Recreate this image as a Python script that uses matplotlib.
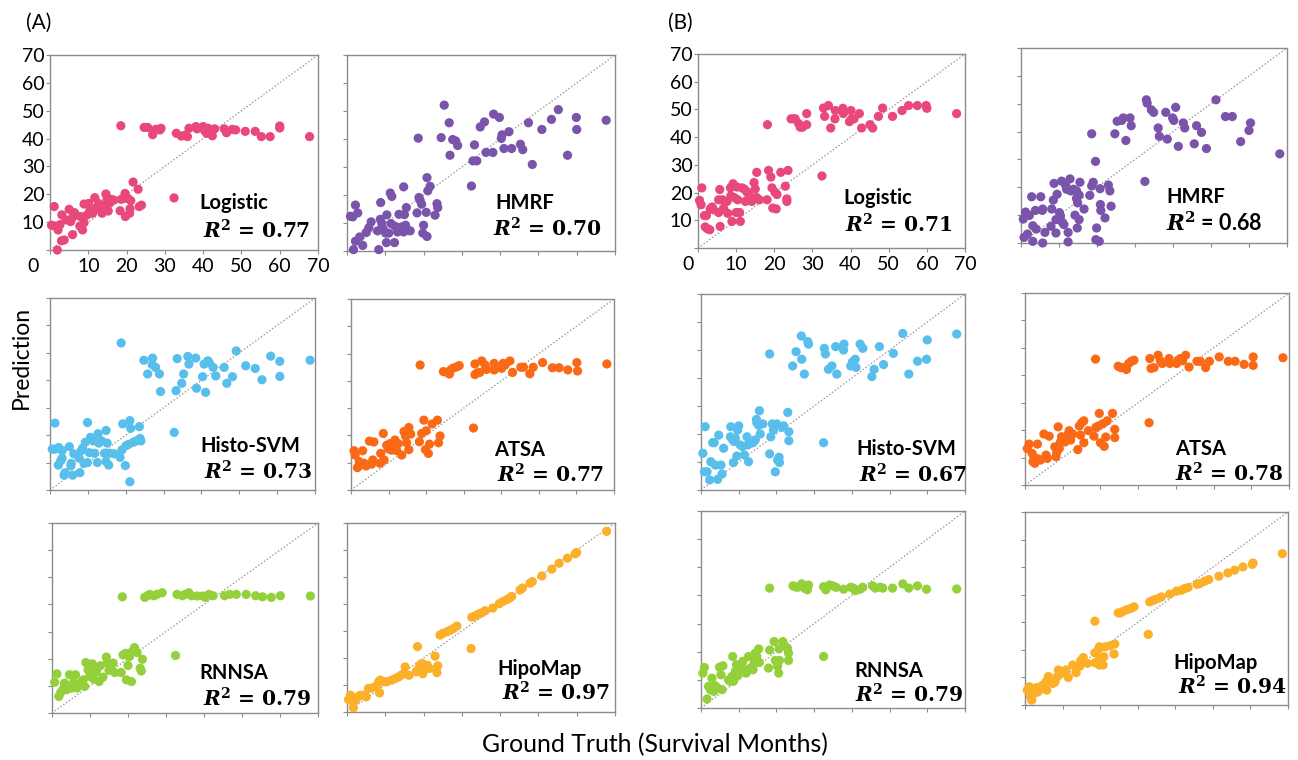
import numpy as np
import matplotlib.pyplot as plt

plt.rcParams['font.family'] = ['Lato', 'DejaVu Sans']
plt.rcParams['mathtext.fontset'] = 'custom'
plt.rcParams['mathtext.rm'] = 'DejaVu Serif'
plt.rcParams['mathtext.bf'] = 'DejaVu Serif:bold'
plt.rcParams['mathtext.it'] = 'DejaVu Serif:italic'
plt.rcParams['mathtext.bfit'] = 'DejaVu Serif:italic:bold'

# ---- data (ground truth months, predicted months) ----
# (A) Logistic
a_log_x = [18.5, 24.6, 25.5, 26.8, 27.6, 28.7, 29.0, 33.0, 34.3, 35.4, 35.9, 36.3, 38.1, 38.4, 40.0, 40.4,
           40.9, 41.3, 42.4, 43.0, 45.5, 46.1, 47.6, 48.5, 51.0, 53.6, 55.2, 57.5, 60.0, 60.0, 67.8,
           1.1, 0.4, 1.3, 2.1, 2.6, 3.1, 3.0, 3.7, 1.9, 4.2, 5.0, 5.4, 5.9, 6.4, 5.9, 8.0, 7.8, 8.5, 8.9,
           8.9, 9.7, 10.1, 10.4, 11.1, 11.7, 12.2, 12.7, 13.2, 13.6, 14.3, 14.6, 14.9, 15.2, 15.5, 16.0,
           16.7, 18.3, 18.6, 19.3, 19.6, 19.7, 20.4, 20.8, 20.9, 21.1, 21.7, 23.0, 23.3, 23.9, 32.4]
a_log_y = [44.6, 44.0, 44.0, 41.4, 43.3, 43.1, 43.7, 41.9, 40.9, 41.3, 40.7, 43.7, 44.3, 43.5, 44.3, 42.8,
           41.9, 43.7, 41.0, 43.5, 43.5, 42.1, 43.3, 43.1, 42.6, 42.6, 40.7, 40.7, 44.5, 43.8, 40.7,
           15.6, 8.9, 8.6, 7.2, 9.1, 12.6, 3.3, 3.6, 0.0, 10.8, 14.6, 10.2, 11.7, 13.4, 5.5, 12.0, 8.6, 7.2, 9.8,
           16.5, 12.6, 16.7, 14.1, 13.2, 18.8, 15.3, 16.7, 14.4, 13.2, 16.1, 20.1, 18.2, 14.0, 16.7, 18.2,
           17.9, 14.1, 18.2, 18.5, 20.3, 12.0, 18.5, 13.2, 14.8, 17.7, 24.4, 21.8, 15.6, 16.1, 18.7]

# (A) HMRF
a_hmrf_x = [25.4, 26.7, 18.6, 24.6, 26.9, 27.6, 28.4, 28.9, 33.3, 32.9, 33.9, 34.8, 35.9, 36.3, 38.1, 38.3,
            39.8, 40.3, 40.5, 41.0, 42.3, 43.0, 45.3, 45.9, 47.4, 48.4, 50.9, 53.4, 55.2, 57.6, 59.9, 60.0,
            67.7, 32.5,
            0.9, 1.5, 2.2, 2.8, 2.2, 1.7, 3.3, 4.1, 5.0, 5.7, 6.3, 8.0, 8.3, 8.8, 8.7, 9.1, 9.4, 10.1, 10.3,
            10.4, 10.9, 11.3, 11.7, 11.5, 12.4, 12.6, 13.2, 13.6, 14.3, 14.8, 14.8, 15.0, 15.3, 15.5, 16.5,
            18.3, 18.8, 19.1, 19.5, 20.0, 19.8, 20.7, 20.9, 20.9, 21.1, 21.7, 23.0, 23.5, 23.7]
a_hmrf_y = [52.1, 45.8, 40.3, 40.5, 34.2, 39.8, 39.3, 37.7, 37.9, 32.2, 32.2, 44.3, 46.1, 35.2, 35.2, 48.9,
            47.7, 40.2, 41.5, 36.6, 42.6, 36.6, 38.1, 36.2, 45.8, 30.9, 43.4, 47.0, 50.5, 34.2, 47.7, 43.4,
            46.7, 23.2,
            12.4, 12.2, 16.4, 13.6, 3.5, 0.5, 5.0, 2.0, 6.6, 8.3, 10.4, 7.2, 0.5, 17.3, 11.3, 9.8, 8.0, 6.4, 3.0,
            12.9, 6.4, 20.7, 19.5, 9.8, 3.0, 8.8, 6.8, 13.1, 8.6, 22.9, 6.8, 13.0, 9.2, 15.5, 7.2,
            13.6, 19.1, 18.1, 16.7, 9.2, 6.4, 13.8, 5.2, 26.2, 21.5, 23.1, 12.8, 16.9, 15.5]

# (A) Histo-SVM
a_his_x = [18.8, 24.8, 25.8, 27.1, 27.0, 27.9, 28.9, 29.2, 33.3, 33.6, 34.8, 35.3, 36.4, 36.7, 38.5, 38.7,
           40.3, 40.7, 41.1, 41.7, 42.1, 43.1, 43.8, 46.0, 46.7, 48.2, 49.2, 51.7, 54.2, 56.0, 58.3, 60.7,
           60.7, 68.7, 32.8,
           1.3, 0.6, 1.3, 2.3, 3.2, 2.2, 2.8, 3.2, 3.7, 4.0, 5.1, 5.5, 5.6, 6.0, 6.3, 7.7, 7.9, 8.3, 8.6,
           9.0, 9.3, 9.9, 9.9, 10.4, 10.7, 11.4, 11.8, 12.5, 12.7, 12.9, 13.6, 14.4, 14.8, 14.8, 15.1, 15.5,
           15.8, 16.9, 18.5, 19.0, 19.2, 19.9, 20.1, 20.7, 21.1, 21.1, 21.3, 22.0, 22.8, 23.6, 23.8, 24.0]
a_his_y = [53.6, 47.3, 42.3, 48.1, 45.7, 44.7, 42.3, 35.9, 36.2, 47.9, 38.9, 42.3, 48.7, 45.9, 48.1, 37.1,
           41.3, 45.9, 35.6, 47.1, 46.3, 44.7, 41.6, 44.7, 38.9, 41.3, 50.7, 45.3, 44.3, 40.2, 48.8, 46.9,
           41.4, 47.3, 21.0,
           24.4, 14.9, 14.9, 15.5, 14.4, 9.1, 10.6, 11.6, 5.4, 6.3, 15.8, 8.8, 9.7, 5.4, 13.2, 11.6, 6.3, 14.4, 15.2,
           9.7, 17.4, 10.0, 24.6, 13.6, 19.2, 17.9, 13.4, 10.0, 20.5, 17.1, 17.9, 13.4, 21.7, 10.4, 17.1, 9.1,
           13.4, 13.2, 11.9, 14.6, 24.1, 8.9, 16.2, 16.6, 25.3, 3.0, 22.5, 17.4, 17.9, 23.1, 18.8, 17.9]

# (A) ATSA
a_atsa_x = [18.4, 24.6, 25.5, 26.2, 26.6, 27.2, 28.1, 28.8, 33.0, 33.0, 33.6, 34.3, 34.8, 35.7, 36.1, 38.1,
            38.1, 39.2, 40.1, 40.5, 41.0, 42.3, 43.0, 45.2, 45.9, 47.6, 48.5, 51.0, 53.6, 55.4, 57.7, 60.1,
            60.3, 68.1, 32.6,
            0.8, 1.1, 1.7, 2.2, 2.6, 3.1, 3.5, 4.0, 4.9, 5.5, 5.8, 6.1, 7.7, 7.9, 8.6, 8.8, 9.5, 9.9, 10.4,
            10.8, 11.3, 11.7, 12.2, 12.6, 13.5, 14.1, 14.5, 14.8, 15.4, 15.4, 15.9, 18.2, 18.8, 19.4, 19.8,
            20.0, 20.6, 20.9, 21.6, 23.0, 23.3, 23.7]
a_atsa_y = [45.8, 43.4, 43.1, 42.5, 44.1, 44.7, 45.1, 45.6, 42.3, 46.2, 42.9, 43.1, 47.3, 45.8, 44.2, 46.4,
            44.0, 45.0, 44.6, 46.4, 45.8, 47.3, 43.1, 45.0, 45.0, 42.6, 45.0, 46.7, 44.8, 44.8, 44.0, 46.7,
            43.6, 46.2, 22.7,
            14.4, 12.8, 8.2, 10.4, 9.2, 14.4, 9.8, 8.8, 17.9, 9.5, 11.0, 17.6, 9.8, 13.4, 20.7, 11.0, 16.4, 15.1, 17.0,
            14.6, 16.1, 18.3, 14.4, 17.0, 12.8, 21.4, 19.8, 17.3, 22.9, 14.8, 20.5, 17.7, 20.7, 25.6, 14.8,
            21.7, 13.4, 16.8, 24.2, 25.6, 17.3, 19.8]

# (A) RNNSA
a_rnn_x = [18.5, 24.4, 25.1, 25.7, 26.8, 27.6, 29.0, 32.9, 34.3, 35.0, 36.0, 36.7, 38.2, 39.7, 40.4, 41.3,
           42.4, 45.4, 46.8, 48.5, 51.1, 53.6, 55.4, 57.7, 60.1, 68.0, 32.5,
           1.3, 0.7, 1.8, 2.3, 2.9, 3.3, 3.8, 4.6, 5.1, 5.7, 6.2, 6.6, 7.7, 8.2, 8.6, 8.9, 9.5, 9.9, 10.6,
           11.0, 11.7, 12.4, 12.7, 13.4, 14.3, 14.5, 15.0, 15.6, 16.1, 16.5, 18.2, 18.7, 19.4, 19.6, 20.0,
           20.4, 20.9, 21.1, 21.7, 22.4, 23.2, 23.5, 23.8]
a_rnn_y = [42.8, 42.6, 43.2, 43.7, 43.2, 43.7, 44.3, 43.7, 43.2, 43.7, 44.3, 43.2, 43.1, 43.1, 42.6, 43.7,
           43.2, 43.2, 43.7, 43.7, 43.7, 43.2, 42.8, 42.6, 43.2, 43.1, 21.2,
           14.4, 11.3, 6.1, 7.6, 8.8, 11.0, 8.6, 14.1, 9.2, 11.3, 14.1, 9.2, 11.3, 12.2, 9.8, 18.6, 15.9, 13.5, 18.1,
           12.5, 15.3, 11.6, 17.4, 13.2, 20.6, 18.4, 15.7, 16.2, 18.4, 14.9, 14.9, 21.4, 22.0, 12.2, 17.5,
           20.8, 11.6, 22.6, 24.1, 22.3, 16.5, 15.5, 19.8]

# (A) HipoMap
a_hipo_x = [67.8, 60.0, 59.6, 57.6, 55.4, 53.5, 50.9, 48.4, 47.8, 45.8, 45.2, 43.0, 42.4, 41.6, 40.7, 39.8,
            38.1, 36.1, 35.2, 34.3, 33.5, 32.6, 28.7, 27.8, 27.0, 26.1, 25.0, 24.3, 18.4, 32.4, 23.0, 23.7,
            23.5, 19.0, 19.6, 20.0, 20.4, 21.0, 21.5, 19.3, 18.4, 18.1, 19.8, 16.2, 15.2, 14.8, 14.1, 13.5,
            12.6, 11.7, 10.4, 9.6, 8.7, 8.3, 7.8, 8.5, 6.5, 5.6, 5.0, 4.2, 3.5, 2.8, 2.2, 0.9, 0.4, 1.7, 1.6]
a_hipo_y = [66.9, 59.1, 58.6, 57.0, 55.1, 52.9, 50.4, 48.3, 47.7, 45.9, 45.2, 42.8, 42.1, 41.5, 40.9, 40.1,
            38.5, 37.5, 36.7, 36.2, 35.6, 35.1, 31.8, 30.9, 30.3, 29.7, 29.1, 28.5, 24.2, 23.5, 20.7, 17.1,
            14.6, 17.3, 18.0, 16.1, 16.7, 17.3, 16.1, 15.5, 15.5, 14.9, 14.2, 13.6, 16.7, 14.2, 13.6, 13.0,
            12.4, 11.8, 11.2, 11.2, 11.8, 11.2, 9.9, 7.1, 8.9, 8.7, 5.6, 6.2, 6.2, 5.6, 4.3, 6.2, 4.6, 1.6, 3.7]

# (B) Logistic
b_log_x = [18.2, 24.4, 25.1, 25.5, 26.4, 26.8, 27.4, 28.5, 28.5, 32.9, 33.2, 34.2, 34.8, 35.9, 36.0, 38.0,
           38.1, 39.7, 40.1, 40.3, 40.9, 42.3, 42.9, 45.1, 45.8, 47.3, 48.4, 51.0, 53.5, 55.2, 57.5, 59.8,
           60.0, 67.8, 32.5,
           0.4, 0.8, 1.0, 1.7, 2.2, 1.9, 2.5, 3.1, 3.2, 3.7, 4.1, 5.4, 5.7, 5.4, 5.8, 6.4, 6.7, 7.6, 7.8,
           8.5, 8.6, 8.9, 9.2, 9.5, 10.0, 10.2, 10.4, 10.9, 11.1, 11.5, 12.1, 12.4, 12.7, 13.0, 13.5, 14.1,
           14.7, 15.0, 15.4, 15.4, 16.1, 18.1, 18.5, 19.1, 19.4, 19.6, 20.2, 20.7, 20.5, 21.7, 22.9, 23.3,
           23.6, 23.3]
b_log_y = [44.5, 46.6, 46.6, 46.6, 44.9, 43.6, 43.6, 44.5, 48.5, 50.5, 47.5, 51.4, 43.3, 46.6, 49.6, 50.4,
           48.5, 45.6, 49.6, 46.6, 46.6, 48.5, 43.3, 44.5, 43.3, 47.5, 50.5, 47.5, 49.6, 51.4, 51.4, 51.4,
           50.4, 48.5, 26.0,
           17.2, 15.6, 21.7, 11.7, 11.7, 7.6, 6.9, 6.6, 14.1, 14.8, 13.8, 17.4, 21.1, 12.8, 7.8, 17.4, 14.4, 16.8, 12.5,
           21.7, 18.8, 9.6, 23.2, 18.2, 12.8, 22.0, 17.4, 12.8, 9.6, 21.7, 21.3, 16.8, 20.5, 19.9, 18.9, 16.8,
           23.6, 21.3, 18.2, 27.3, 17.4, 17.4, 28.0, 25.6, 21.7, 14.4, 20.1, 19.3, 14.1, 27.3, 22.3, 17.7,
           28.0, 16.8]

# (B) HMRF
b_hmrf_x = [18.6, 19.6, 24.7, 25.3, 26.5, 26.9, 27.6, 28.7, 29.0, 32.6, 33.0, 33.2, 34.3, 34.9, 36.1, 36.4,
            38.1, 38.5, 39.9, 40.2, 40.7, 41.4, 42.7, 43.1, 45.6, 46.2, 47.5, 48.8, 51.3, 53.8, 55.6, 57.8,
            60.0, 60.4, 68.1,
            0.6, 1.2, 2.2, 0.8, 1.7, 2.8, 3.1, 3.1, 3.8, 4.0, 5.2, 5.6, 5.7, 6.3, 5.7, 8.1, 7.9, 8.5, 8.7,
            9.2, 9.2, 9.5, 10.1, 10.4, 10.7, 10.9, 11.3, 11.8, 12.0, 12.4, 12.4, 12.9, 13.1, 13.8, 14.2, 14.6,
            14.6, 14.9, 15.3, 14.8, 15.5, 15.3, 16.6, 18.1, 18.6, 19.0, 19.9, 19.7, 20.6, 20.8, 20.9, 21.0,
            22.1, 23.0, 23.4, 23.7]
b_hmrf_y = [39.2, 29.3, 39.2, 43.7, 44.0, 44.9, 36.8, 44.9, 42.1, 22.1, 51.4, 50.2, 47.8, 46.9, 41.3, 38.3,
            46.9, 37.3, 44.9, 44.0, 48.7, 34.7, 43.1, 41.3, 35.6, 42.1, 39.7, 33.9, 51.4, 45.4, 45.4, 36.4,
            40.4, 43.1, 32.0,
            8.6, 11.1, 9.9, 2.0, 3.2, 16.6, 6.2, 0.6, 11.7, 5.0, 16.6, 11.7, 12.2, 3.8, 0.0, 12.2, 6.0, 15.4, 21.4,
            8.4, 3.6, 17.5, 10.9, 9.7, 22.2, 7.4, 6.6, 20.5, 19.3, 3.8, 0.4, 23.0, 18.7, 19.3, 10.0, 18.7,
            16.0, 14.4, 8.4, 5.4, 21.8, 17.2, 12.2, 17.1, 20.5, 21.8, 5.4, 1.2, 0.6, 19.5, 13.8, 11.7,
            9.0, 20.8, 18.7, 13.2]

# (B) Histo-SVM
b_his_x = [18.2, 24.3, 25.2, 26.6, 26.7, 27.4, 28.3, 28.5, 32.5, 32.7, 33.0, 33.8, 34.7, 35.7, 36.0, 37.8,
           37.9, 39.7, 40.2, 40.9, 41.1, 42.2, 42.9, 45.3, 45.9, 47.3, 48.4, 51.0, 53.5, 55.1, 57.4, 59.8,
           60.0, 67.8,
           0.5, 0.9, 1.1, 1.6, 2.3, 2.6, 3.1, 3.5, 3.8, 4.4, 4.7, 5.3, 5.6, 6.0, 7.8, 7.9, 8.4, 8.6, 8.8,
           9.1, 9.5, 9.7, 10.0, 10.4, 11.0, 11.5, 12.2, 12.4, 12.6, 13.1, 13.8, 14.4, 14.7, 14.8, 15.3, 15.5,
           15.7, 16.4, 18.2, 18.5, 18.9, 19.2, 19.7, 20.1, 20.3, 20.7, 20.8, 21.5, 21.9, 23.0, 23.3, 23.3]
b_his_y = [48.6, 44.3, 49.4, 55.0, 46.7, 41.4, 53.0, 52.1, 16.9, 50.6, 48.6, 43.1, 44.3, 51.2, 41.4, 50.0,
           52.1, 44.3, 45.8, 46.7, 43.8, 52.1, 50.6, 40.5, 43.1, 51.2, 44.8, 48.8, 55.9, 41.4, 46.0, 46.7,
           53.6, 55.7,
           13.1, 6.5, 22.6, 6.5, 3.6, 10.1, 16.9, 16.9, 8.9, 3.8, 19.6, 8.9, 5.7, 14.9, 19.0, 22.6, 17.9, 9.8, 17.3,
           18.5, 12.1, 21.4, 22.9, 16.1, 15.5, 12.5, 19.0, 16.1, 10.1, 16.7, 16.9, 17.9, 25.2, 24.0, 23.1, 28.3,
           20.0, 23.6, 12.9, 19.0, 23.6, 21.4, 6.5, 23.6, 10.7, 11.7, 9.8, 22.4, 22.9, 27.7, 20.8, 17.6]

# (B) ATSA
b_atsa_x = [18.7, 24.7, 25.4, 26.2, 26.9, 27.5, 28.2, 28.9, 33.1, 33.4, 34.2, 35.3, 35.9, 36.4, 38.2, 38.4,
            40.2, 40.6, 41.2, 41.8, 42.6, 43.5, 45.6, 46.5, 47.9, 48.9, 51.5, 53.9, 55.7, 58.1, 60.5, 60.5,
            68.4, 32.9,
            0.6, 1.1, 1.9, 2.1, 2.4, 2.6, 2.9, 3.3, 3.5, 4.1, 5.0, 5.6, 5.9, 6.4, 7.9, 8.2, 8.4, 8.8, 9.1,
            9.4, 9.7, 10.1, 10.6, 11.0, 11.5, 11.7, 12.1, 12.6, 14.0, 14.4, 14.7, 15.0, 15.6, 15.6, 16.8,
            18.3, 18.8, 19.4, 19.7, 20.0, 20.6, 21.0, 21.4, 21.8, 23.2, 23.8, 23.8]
b_atsa_y = [45.9, 43.3, 42.8, 42.8, 42.1, 44.3, 45.1, 45.5, 46.1, 42.5, 42.8, 47.3, 45.3, 44.3, 46.1, 44.3,
            44.3, 45.5, 46.1, 45.3, 47.3, 43.0, 45.1, 45.1, 42.8, 45.1, 46.7, 45.1, 45.1, 44.0, 46.7, 43.6,
            46.4, 22.7,
            13.3, 14.9, 11.5, 8.5, 10.2, 7.9, 8.9, 14.9, 9.5, 9.1, 18.6, 10.9, 9.7, 17.8, 13.9, 10.3, 11.8, 21.2, 13.3,
            15.7, 17.6, 17.0, 15.7, 17.6, 18.6, 19.8, 16.4, 18.6, 12.9, 21.5, 18.2, 22.7, 23.4, 15.4, 19.8,
            17.8, 21.0, 21.5, 26.1, 15.4, 22.3, 14.1, 17.5, 23.4, 26.1, 20.3, 17.3]

# (B) RNNSA
b_rnn_x = [18.2, 24.4, 25.0, 25.6, 26.7, 27.4, 28.2, 28.5, 32.5, 33.1, 34.1, 34.9, 35.8, 37.8, 39.7, 40.4,
           40.9, 42.2, 42.9, 45.5, 46.2, 47.5, 48.2, 50.8, 53.5, 55.1, 57.4, 59.8, 67.8, 32.5,
           0.5, 0.9, 1.6, 2.0, 2.5, 2.9, 3.4, 3.8, 4.4, 4.9, 5.3, 5.6, 5.8, 7.3, 7.7, 8.2, 8.4, 8.6, 9.1,
           9.4, 9.7, 10.2, 10.6, 11.1, 11.5, 12.0, 12.6, 13.1, 13.8, 14.1, 14.4, 14.8, 15.3, 15.5, 17.9,
           18.2, 19.4, 19.7, 20.3, 20.6, 20.7, 20.8, 21.7, 22.9, 23.2, 23.2]
b_rnn_y = [42.6, 43.4, 43.1, 42.9, 44.1, 42.6, 42.0, 43.7, 43.1, 42.0, 43.7, 43.4, 42.9, 42.2, 42.9, 42.6,
           41.7, 42.2, 42.9, 43.4, 42.6, 42.9, 42.6, 42.6, 44.1, 42.6, 43.4, 42.2, 42.3, 18.3,
           12.4, 14.4, 3.2, 7.7, 6.5, 10.6, 5.9, 7.9, 7.1, 14.5, 11.8, 6.5, 15.0, 10.0, 9.5, 11.2, 18.3, 9.5, 13.0,
           15.4, 11.5, 14.2, 15.4, 16.6, 13.6, 12.4, 18.3, 14.2, 13.6, 16.0, 19.5, 18.3, 21.0, 16.2, 14.2,
           20.6, 23.6, 16.9, 14.8, 12.4, 21.0, 16.9, 23.6, 21.3, 19.5, 16.9]

# (B) HipoMap
b_hipo_x = [68.5, 60.7, 60.5, 58.0, 55.8, 54.0, 51.6, 48.9, 47.8, 46.5, 45.8, 43.4, 42.5, 41.6, 40.3, 38.5,
            36.3, 35.4, 34.5, 33.9, 33.2, 29.0, 28.1, 27.2, 26.3, 25.4, 24.8, 18.6, 32.8, 23.9, 23.7, 22.6,
            21.3, 19.8, 19.5, 18.6, 21.0, 19.9, 20.8, 19.8, 18.6, 16.6, 15.5, 14.8, 14.6, 13.6, 12.7, 11.5,
            10.9, 9.7, 8.9, 8.6, 8.0, 7.4, 6.2, 5.6, 5.8, 4.7, 3.5, 3.1, 2.2, 1.2, 0.6, 1.8, 1.5]
b_hipo_y = [54.9, 51.5, 51.0, 50.1, 48.9, 47.9, 46.7, 45.5, 44.9, 44.0, 43.8, 42.6, 42.2, 41.6, 41.3, 40.2,
            39.2, 38.6, 38.2, 37.8, 37.4, 35.6, 35.0, 34.6, 34.1, 33.4, 33.4, 30.4, 25.6, 22.1, 18.5, 21.5,
            21.1, 21.1, 20.1, 18.9, 17.5, 16.7, 14.5, 14.5, 15.3, 15.1, 17.2, 16.0, 14.1, 11.7, 14.5, 10.0,
            12.7, 11.7, 12.7, 10.3, 8.4, 7.8, 10.3, 8.4, 5.4, 7.2, 4.8, 6.3, 4.2, 6.6, 5.4, 1.8, 3.0]

ticks = [0, 10, 20, 30, 40, 50, 60, 70]
tick_labels = ['', '10', '20', '30', '40', '50', '60', '70']

pink = '#E8487A'
purple = '#7A54AA'
blue = '#58BEEB'
orange = '#FA6A16'
green = '#93D03A'
amber = '#FCAF28'

# box in pixels (left, right, top, bottom), name pos, r2 pos (axes fraction)
panels = [
    ((50, 318, 55, 250), a_log_x, a_log_y, pink, 'Logistic', '0.77', (0.556, 0.24), (0.57, 0.10), True, -4.4),
    ((347, 615, 55, 251), a_hmrf_x, a_hmrf_y, purple, 'HMRF', '0.70', (0.552, 0.245), (0.545, 0.115), False, 0),
    ((50, 315, 298, 490), a_his_x, a_his_y, blue, 'Histo-SVM', '0.73', (0.566, 0.23), (0.58, 0.095), False, 0),
    ((351, 614, 299, 490), a_atsa_x, a_atsa_y, orange, 'ATSA', '0.77', (0.544, 0.21), (0.555, 0.08), False, 0),
    ((52, 318, 523, 713), a_rnn_x, a_rnn_y, green, 'RNNSA', '0.79', (0.553, 0.21), (0.568, 0.075), False, 0),
    ((347, 615, 523, 712), a_hipo_x, a_hipo_y, amber, 'HipoMap', '0.97', (0.56, 0.23), (0.578, 0.10), False, 0),
    ((698, 965, 54, 248), b_log_x, b_log_y, pink, 'Logistic', '0.71', (0.543, 0.26), (0.55, 0.12), True, -2.6),
    ((1021, 1287, 48, 243), b_hmrf_x, b_hmrf_y, purple, 'HMRF', '0.68', (0.545, 0.236), (0.545, 0.10), False, 0),
    ((701, 965, 294, 490), b_his_x, b_his_y, blue, 'Histo-SVM', '0.67', (0.59, 0.21), (0.60, 0.076), False, 0),
    ((1025, 1289, 293, 485), b_atsa_x, b_atsa_y, orange, 'ATSA', '0.78', (0.57, 0.19), (0.57, 0.057), False, 0),
    ((701, 965, 511, 708), b_rnn_x, b_rnn_y, green, 'RNNSA', '0.79', (0.58, 0.19), (0.583, 0.066), False, 0),
    ((1025, 1288, 512, 705), b_hipo_x, b_hipo_y, amber, 'HipoMap', '0.94', (0.566, 0.22), (0.58, 0.093), False, 0),
]

W, H = 1298, 760
fig = plt.figure(figsize=(W / 100, H / 100), dpi=100)

for box, xs, ys, col, name, r2, npos, rpos, labels, zero_off in panels:
    l, r, t, b = box
    ax = fig.add_axes([l / W, (H - b) / H, (r - l) / W, (b - t) / H])
    ax.set_xlim(0, 70)
    ax.set_ylim(0, 70)
    ax.plot([0, 70], [0, 70], color='#9a9a9a', linestyle=(0, (1, 1.5)), lw=1.0, zorder=1)
    ax.scatter(xs, ys, s=44, color=col, edgecolors='none', zorder=3, clip_on=False)
    for sp in ax.spines.values():
        sp.set_color('#8c8c8c')
        sp.set_linewidth(1.0)
    ax.set_xticks(ticks)
    ax.set_yticks(ticks)
    ax.tick_params(direction='out', length=3, width=0.8, color='#8c8c8c', labelsize=14, pad=1)
    ax.tick_params(axis='x', pad=3)
    if labels:
        ax.set_xticklabels(tick_labels)
        ax.set_yticklabels(tick_labels)
        ax.text(zero_off, -3.0, '0', ha='center', va='top', fontsize=14, clip_on=False)
    else:
        ax.set_xticklabels([])
        ax.set_yticklabels([])
    ax.text(npos[0], npos[1], name, transform=ax.transAxes, ha='left', va='center',
            fontsize=14.5, fontweight='bold')
    if name == 'HMRF' and r2 == '0.68':
        # this one was typed in the sans font in the original
        ax.text(rpos[0], rpos[1], r'$\mathbfit{R}^{\mathbf{2}}$ = ' + r2, transform=ax.transAxes,
                ha='left', va='center', fontsize=15.5, fontweight='bold', family=['Lato'])
    else:
        ax.text(rpos[0], rpos[1], r'$\mathbfit{R}^{\mathbf{2}}$ = ' + r2, transform=ax.transAxes,
                ha='left', va='center', fontsize=14.5, fontweight='bold', family=['DejaVu Serif'])

fig.text(39 / W, 1 - 23 / H, '(A)', ha='center', va='center', fontsize=15)
fig.text(680 / W, 1 - 23 / H, '(B)', ha='center', va='center', fontsize=15)
fig.text(21 / W, 1 - 357 / H, 'Prediction', rotation=90, ha='center', va='center', fontsize=16.5)
fig.text(655 / W, 1 - 745 / H, 'Ground Truth (Survival Months)', ha='center', va='center', fontsize=17.8)

fig.savefig('out.png', dpi=100)
